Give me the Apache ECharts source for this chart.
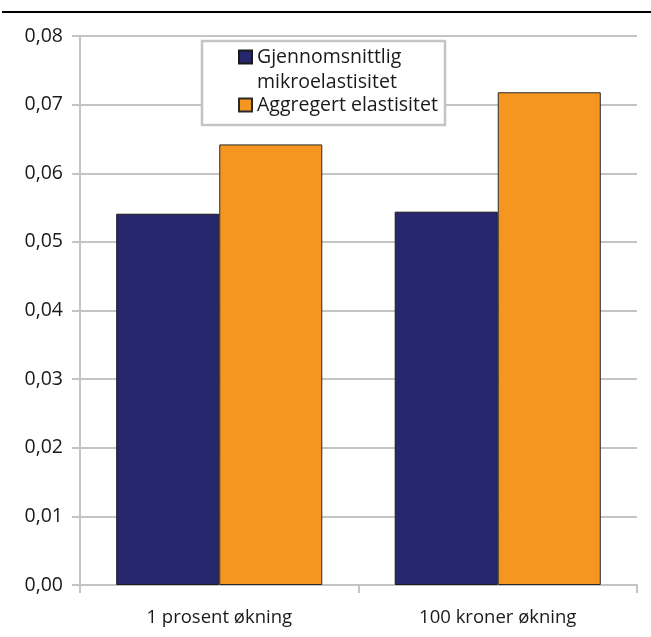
<!DOCTYPE html>
<html>
<head>
<meta charset="utf-8">
<script src="https://cdn.jsdelivr.net/npm/echarts@6/dist/echarts.min.js"></script>
<style>
  html, body { margin: 0; padding: 0; background: #ffffff; }
  #chart { width: 651px; height: 637px; }
</style>
</head>
<body>
<div id="chart"></div>
<script>
// Categories and elasticity values per scenario
const categories = ['1 prosent økning', '100 kroner økning'];
const seriesNames = ['Gjennomsnittlig mikroelastisitet', 'Aggregert elastisitet'];
// leading blank line keeps the first text line level with the swatch
const legendLabels = [' \nGjennomsnittlig\nmikroelastisitet', 'Aggregert elastisitet'];
const microElasticity = [0.0541, 0.0544];
const aggregateElasticity = [0.0642, 0.0718];
// Value axis range
const yMin = 0;
const yMax = 0.08;
const yStep = 0.01;

const FONT = 'Open Sans';
const GRID_GRAY = '#c4c4c4';
const TEXT = '#1a1a1a';
const colors = ['#27276d', '#f4961f'];

const chart = echarts.init(document.getElementById('chart'), null, { renderer: 'canvas' });

const lineH = 25;

chart.setOption({
  animation: false,
  backgroundColor: '#ffffff',
  textStyle: { fontFamily: FONT },
  grid: { left: 80, right: 14, top: 36, bottom: 52, containLabel: false },
  graphic: [
    // rule across the top
    { type: 'line', shape: { x1: 2, y1: 12, x2: 651, y2: 12 },
      style: { stroke: '#000000', lineWidth: 2 }, z: 10 },
    // legend frame
    { type: 'rect', shape: { x: 202, y: 41, width: 243, height: 84 },
      style: { fill: '#ffffff', stroke: GRID_GRAY, lineWidth: 2.5 }, z: 3 }
  ],
  legend: {
    orient: 'vertical',
    left: 238,
    top: 19.5,
    padding: 0,
    itemGap: -2,
    itemWidth: 13,
    itemHeight: 13,
    icon: 'rect',
    z: 5,
    data: seriesNames,
    formatter: function (name) {
      return legendLabels[seriesNames.indexOf(name)];
    },
    textStyle: { fontFamily: FONT, fontSize: 19.5, color: TEXT, lineHeight: lineH }
  },
  xAxis: {
    type: 'category',
    data: categories,
    axisLine: { show: true, lineStyle: { color: GRID_GRAY, width: 2 } },
    axisTick: { show: true, length: 8, lineStyle: { color: GRID_GRAY, width: 2 } },
    axisLabel: { fontFamily: FONT, fontSize: 18.5, color: TEXT, margin: 23 }
  },
  yAxis: {
    type: 'value',
    min: yMin,
    max: yMax,
    interval: yStep,
    axisLine: { show: true, lineStyle: { color: GRID_GRAY, width: 2 } },
    axisTick: { show: true, length: 8, lineStyle: { color: GRID_GRAY, width: 2 } },
    splitLine: { show: true, lineStyle: { color: GRID_GRAY, width: 2 } },
    axisLabel: {
      fontFamily: FONT, fontSize: 19.5, color: TEXT, margin: 17,
      formatter: function (v) { return v.toFixed(2).replace('.', ','); }
    }
  },
  series: [
    {
      name: seriesNames[0],
      type: 'bar',
      data: microElasticity,
      barGap: '0%',
      barCategoryGap: '26%',
      itemStyle: { color: colors[0], borderColor: '#1a1a1a', borderWidth: 1 }
    },
    {
      name: seriesNames[1],
      type: 'bar',
      data: aggregateElasticity,
      barGap: '0%',
      barCategoryGap: '26%',
      itemStyle: { color: colors[1], borderColor: '#2a2a2a', borderWidth: 1 }
    }
  ]
});
</script>
</body>
</html>
